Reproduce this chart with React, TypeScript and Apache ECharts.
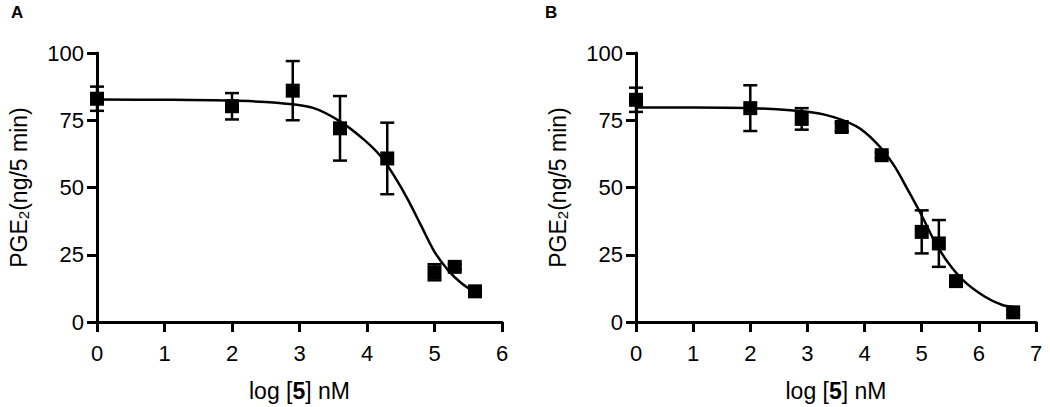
import React, { useEffect, useRef } from "react";
import * as echarts from "echarts";

// Panel A data
const xA = [0, 2, 2.9, 3.6, 4.3, 5, 5.3, 5.6];
const meanA = [83, 80.2, 86, 72, 60.8, 18.5, 20.5, 11.4];
const errA = [4.5, 4.9, 11, 12, 13.3, 3, 1, 1];
const curveAx = [0, 1, 2, 2.5, 2.7, 3.2, 3.6, 3.95, 4.2, 4.4, 4.6, 4.8, 5.0, 5.2, 5.4, 5.6];
const curveAy = [82.7, 82.6, 82.3, 81.8, 81.4, 79.6, 74.6, 67.9, 61.7, 54.4, 45.8, 35.9, 26.1, 19.3, 14.4, 11.1];

// Panel B data
const xB = [0, 2, 2.9, 3.6, 4.3, 5, 5.3, 5.6, 6.6];
const meanB = [82.6, 79.5, 75.5, 72.5, 62, 33.5, 29.2, 15.2, 3.6];
const errB = [4.5, 8.5, 4, 1.5, 1, 8, 8.7, 1, 1];
const curveBx = [0, 1, 2, 2.7, 3.3, 3.85, 4.2, 4.5, 4.75, 5.0, 5.2, 5.45, 5.75, 6.1, 6.4, 6.6];
const curveBy = [79.7, 79.7, 79.5, 78.7, 77.1, 72.8, 66.7, 58.7, 49.4, 39.6, 31.0, 22.4, 15.0, 9.5, 6.4, 5.6];

const yTicks = [0, 25, 50, 75, 100];
const xMaxA = 6;
const xMaxB = 7;

const FONT = "'Liberation Sans', Arial, Helvetica, sans-serif";

function errorSeries(xs: number[], means: number[], errs: number[], idx: number) {
  return {
    type: "custom",
    xAxisIndex: idx,
    yAxisIndex: idx,
    z: 3,
    data: xs.map((x, i) => [x, means[i] - errs[i], means[i] + errs[i]]),
    renderItem: (params: any, api: any) => {
      const x = api.value(0);
      const lo = api.coord([x, api.value(1)]);
      const hi = api.coord([x, api.value(2)]);
      const hw = 7;
      const style = { stroke: "#000", lineWidth: 2.5 };
      return {
        type: "group",
        children: [
          { type: "line", shape: { x1: lo[0], y1: lo[1], x2: hi[0], y2: hi[1] }, style },
          { type: "line", shape: { x1: lo[0] - hw, y1: lo[1], x2: lo[0] + hw, y2: lo[1] }, style },
          { type: "line", shape: { x1: hi[0] - hw, y1: hi[1], x2: hi[0] + hw, y2: hi[1] }, style },
        ],
      };
    },
  };
}

function xAxis(idx: number, max: number) {
  return {
    type: "value",
    gridIndex: idx,
    min: 0,
    max,
    interval: 1,
    splitLine: { show: false },
    axisLine: { show: true, onZero: false, lineStyle: { color: "#000", width: 3 } },
    axisTick: { show: true, length: 10, lineStyle: { color: "#000", width: 3 } },
    axisLabel: { color: "#000", fontSize: 22, fontFamily: FONT, margin: 20 },
    name: "log [{b|5}] nM",
    nameLocation: "middle",
    nameGap: 57,
    nameTextStyle: {
      color: "#000",
      fontSize: 23,
      fontFamily: FONT,
      rich: { b: { fontWeight: "bold", fontSize: 23, fontFamily: FONT, color: "#000" } },
    },
  };
}

function yAxis(idx: number) {
  return {
    type: "value",
    gridIndex: idx,
    min: 0,
    max: 100,
    interval: 25,
    splitLine: { show: false },
    axisLine: { show: true, onZero: false, lineStyle: { color: "#000", width: 3 } },
    axisTick: { show: true, length: 10, lineStyle: { color: "#000", width: 3 } },
    axisLabel: {
      color: "#000",
      fontSize: 22,
      fontFamily: FONT,
      margin: 13,
      formatter: (v: number) => (yTicks.includes(v) ? String(v) : ""),
    },
    name: "PGE{s|2}(ng/5 min)",
    nameLocation: "middle",
    nameGap: 66,
    nameRotate: 90,
    nameTextStyle: {
      color: "#000",
      fontSize: 23,
      fontFamily: FONT,
      rich: { s: { fontSize: 15, fontFamily: FONT, color: "#000", padding: [10, 0, 0, 0] } },
    },
  };
}

function curveSeries(xs: number[], ys: number[], idx: number) {
  return {
    type: "line",
    xAxisIndex: idx,
    yAxisIndex: idx,
    data: xs.map((x, i) => [x, ys[i]]),
    showSymbol: false,
    smooth: 0.35,
    lineStyle: { color: "#000", width: 2.5 },
    z: 2,
  };
}

function pointSeries(xs: number[], ys: number[], idx: number) {
  return {
    type: "scatter",
    xAxisIndex: idx,
    yAxisIndex: idx,
    symbol: "rect",
    symbolSize: 14,
    itemStyle: { color: "#000", opacity: 1 },
    data: xs.map((x, i) => [x, ys[i]]),
    z: 4,
  };
}

export default function App() {
  const ref = useRef<HTMLDivElement>(null);
  useEffect(() => {
    if (!ref.current) return;
    const chart = echarts.init(ref.current, undefined, { renderer: "svg" });
    const option: any = {
      animation: false,
      backgroundColor: "#fff",
      grid: [
        { left: 97, top: 53, width: 405, height: 271 },
        { left: 636, top: 53, width: 400, height: 271 },
      ],
      xAxis: [xAxis(0, xMaxA), xAxis(1, xMaxB)],
      yAxis: [yAxis(0), yAxis(1)],
      graphic: [
        { type: "text", left: 11, top: 4, style: { text: "A", font: `bold 17px ${FONT}`, fill: "#000" } },
        { type: "text", left: 545, top: 4, style: { text: "B", font: `bold 17px ${FONT}`, fill: "#000" } },
      ],
      series: [
        curveSeries(curveAx, curveAy, 0),
        curveSeries(curveBx, curveBy, 1),
        errorSeries(xA, meanA, errA, 0),
        errorSeries(xB, meanB, errB, 1),
        pointSeries(xA, meanA, 0),
        pointSeries(xB, meanB, 1),
      ],
    };
    chart.setOption(option);
    return () => chart.dispose();
  }, []);
  return (
    <div
      ref={ref}
      style={{ position: "fixed", left: 0, top: 0, width: 1050, height: 407, background: "#fff" }}
    />
  );
}
